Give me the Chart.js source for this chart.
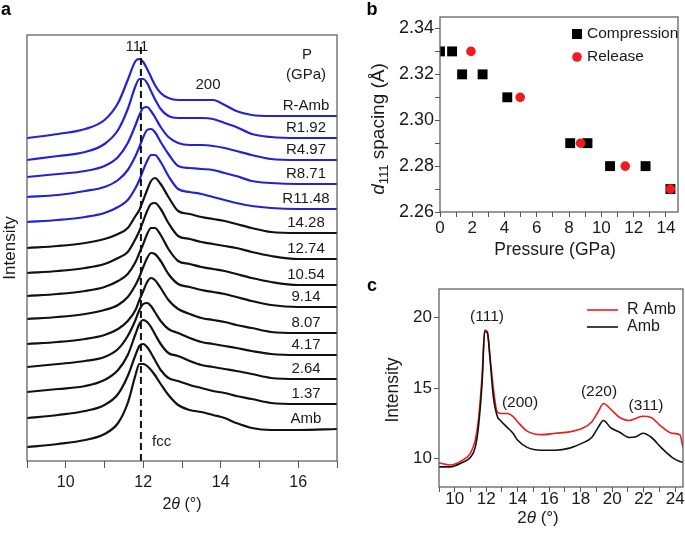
<!DOCTYPE html>
<html lang="en">
<head>
<meta charset="UTF-8">
<title>fcc peak shift under pressure</title>
<script src="https://cdn.jsdelivr.net/npm/chart.js"></script>
<style>
    body {
        margin: 0;
        background: #fff;
        width: 685px;
        height: 537px;
        position: relative;
        overflow: hidden;
    }
    canvas { position: absolute; }
    #panelA { left: 0; top: 0; }
    #panelB { left: 340px; top: 0; }
    #panelC { left: 340px; top: 270px; }
</style>
</head>
<body>
<canvas id="panelA" width="345" height="537"></canvas>
<canvas id="panelB" width="345" height="260"></canvas>
<canvas id="panelC" width="345" height="267"></canvas>
<script>
// ---- panel a: stacked patterns (offset intensity, arbitrary units) ----
const thetaA = [9, 9.8, 10.5, 11.0, 11.35, 11.6, 11.8, 11.9, 12.0, 12.1, 12.2, 12.3, 12.45, 12.65, 12.9, 13.2, 13.5, 13.8, 14.1, 14.4, 14.8, 15.3, 16, 17];
const pressureLabels = ['R-Amb', 'R1.92', 'R4.97', 'R8.71', 'R11.48', '14.28', '12.74', '10.54', '9.14', '8.07', '4.17', '2.64', '1.37', 'Amb'];
const releaseCount = 5;
const intRAmb  = [323, 327, 332, 341, 358, 381, 400, 402, 399, 392, 384, 376, 368, 363, 361, 361, 361, 361, 356, 350, 346, 345, 345, 345];
const intR192  = [301, 305, 309, 317, 331, 352, 375, 382, 382, 378, 370, 362, 352, 345, 343, 343, 343, 342, 338, 334, 327, 324, 323, 323];
const intR497  = [284, 287, 290, 295, 304, 318, 336, 346, 353, 354, 350, 344, 334, 324, 318, 316, 316, 315, 313, 310, 306, 302, 301, 301];
const intR871  = [264, 266, 270, 274, 281, 291, 305, 314, 324, 331, 332, 329, 319, 307, 295, 293, 292, 291, 288, 285, 280, 278, 277, 277];
const intR1148 = [239, 241, 244, 248, 254, 261, 273, 281, 291, 300, 306, 306, 299, 285, 272, 269, 267, 264, 261, 258, 255, 253, 252, 252];
const int1428  = [213, 215, 218, 222, 227, 233, 245, 251, 261, 271, 280, 283, 277, 264, 250, 247, 244, 242, 240, 237, 233, 229, 228, 228];
const int1274  = [188, 190, 193, 197, 203, 209, 222, 230, 240, 250, 257, 258, 252, 238, 225, 222, 219, 217, 215, 213, 209, 205, 202, 202];
const int1054  = [165, 167, 170, 174, 180, 187, 199, 208, 217, 227, 233, 233, 226, 212, 200, 197, 194, 192, 190, 187, 183, 179, 176, 176];
const int914   = [142, 144, 147, 151, 156, 164, 176, 184, 194, 203, 208, 207, 200, 187, 177, 174, 171, 169, 167, 164, 160, 156, 154, 154];
const int807   = [117, 119, 122, 126, 132, 140, 151, 161, 170, 179, 183, 181, 173, 161, 152, 147, 143, 141, 139, 136, 133, 129, 128, 128];
const int417   = [94, 97, 100, 104, 112, 125, 141, 151, 157, 158, 155, 149, 140, 132, 128, 123, 119, 117, 115, 113, 110, 107, 106, 106];
const int264   = [69, 72, 75, 81, 91, 106, 127, 137, 141, 139, 134, 127, 117, 108, 105, 100, 96, 94, 92, 90, 87, 83, 82, 82];
const int137   = [43, 46, 50, 56, 67, 85, 106, 115, 117, 114, 108, 101, 91, 83, 80, 76, 73, 70, 68, 65, 62, 58, 57, 57];
const intAmb   = [14, 17, 21, 27, 38, 58, 86, 97, 97, 95, 91, 86, 77, 66, 56, 51, 49, 46, 43, 38, 33, 31, 31, 32];
const fccLineX = 11.94;

// ---- panel b: d111 spacing vs pressure ----
const compP = [0, 0.75, 1.37, 2.64, 4.17, 8.07, 9.14, 10.54, 12.74, 14.28];
const compD = [2.33, 2.33, 2.32, 2.32, 2.31, 2.29, 2.29, 2.28, 2.28, 2.27];
const relP  = [1.92, 4.97, 8.71, 11.48, 14.28];
const relD  = [2.33, 2.31, 2.29, 2.28, 2.27];

// ---- panel c: full patterns ----
const thetaC = [9, 9.7, 10.5, 11.0, 11.3, 11.5, 11.75, 11.9, 12.07, 12.26, 12.45, 12.7, 12.9, 13.35, 13.7, 14.0, 14.6, 15.5, 16.4, 17.3, 18.1, 18.7, 19.1, 19.45, 19.9, 20.5, 21.1, 21.5, 21.95, 22.5, 23.1, 23.8, 24.3, 24.5];
const cRAmb = [9.7, 9.56, 9.9, 10.4, 11.3, 12.7, 16.1, 19.1, 19.0, 17.0, 15.0, 13.3, 13.2, 13.2, 13.0, 12.6, 11.95, 11.7, 11.8, 11.9, 12.15, 12.6, 13.3, 13.9, 13.5, 12.9, 12.7, 12.85, 13.0, 12.9, 12.3, 11.8, 11.7, 10.8];
const cAmb  = [9.42, 9.42, 9.75, 10.1, 10.8, 12.2, 15.6, 19.0, 18.9, 16.8, 14.4, 13.0, 12.7, 12.2, 11.8, 11.3, 10.8, 10.6, 10.6, 10.75, 11.1, 11.5, 12.2, 12.7, 12.2, 11.85, 11.5, 11.55, 11.8, 11.5, 10.8, 10.1, 9.8, 9.75];

const FONT = 'Arial, "Liberation Sans", Helvetica, sans-serif';
const INK = '#1a1a1a';
const AXIS = '#555';
const BLUE = '#2323d6';
const RED = '#ee1c1c';

const f = (size, style) => (style ? style + ' ' : '') + size + 'px ' + FONT;
const pts = (xs, ys) => xs.map((x, i) => ({ x: x, y: ys[i] }));

// box round the plot area
const framePlugin = {
    id: 'frame',
    afterDatasetsDraw(chart) {
        const { ctx, chartArea: a } = chart;
        ctx.save();
        ctx.strokeStyle = AXIS;
        ctx.lineWidth = 1.2;
        ctx.strokeRect(a.left, a.top, a.right - a.left, a.bottom - a.top);
        ctx.restore();
    }
};

function drawParts(ctx, parts, x, y, align, angle) {
    ctx.save();
    ctx.translate(x, y);
    if (angle) ctx.rotate(angle);
    let total = 0;
    parts.forEach(p => { ctx.font = p.font; total += ctx.measureText(p.text).width; });
    let cx = align === 'left' ? 0 : align === 'right' ? -total : -total / 2;
    ctx.textAlign = 'left';
    ctx.textBaseline = 'middle';
    parts.forEach(p => {
        ctx.font = p.font;
        ctx.fillStyle = p.color || INK;
        ctx.fillText(p.text, cx, p.dy || 0);
        cx += ctx.measureText(p.text).width;
    });
    ctx.restore();
}

// annotations: titles, peak names, legends
const textPlugin = {
    id: 'notes',
    afterDraw(chart, args, opts) {
        const ctx = chart.ctx;
        (opts.items || []).forEach(it => {
            const pos = typeof it.at === 'function' ? it.at(chart) : it.at;
            drawParts(ctx, it.parts, pos[0], pos[1], it.align || 'center', it.angle || 0);
        });
        if (opts.markers) opts.markers(ctx);
    }
};

function tickGrid(len) {
    return { display: true, drawOnChartArea: false, drawTicks: true, tickLength: len, color: AXIS, lineWidth: 1 };
}
function evenLabel(v) {
    const k = Math.round(v);
    return Math.abs(v - k) < 1e-6 && k % 2 === 0 ? String(k) : '';
}

// ================= panel a =================
const seriesA = [intRAmb, intR192, intR497, intR871, intR1148, int1428, int1274, int1054, int914, int807, int417, int264, int137, intAmb];

const dsA = seriesA.map((arr, i) => ({
    label: pressureLabels[i],
    data: pts(thetaA, arr),
    showLine: true,
    borderColor: i < releaseCount ? BLUE : '#111',
    borderWidth: 2.2,
    pointRadius: 0,
    cubicInterpolationMode: 'monotone',
    order: 1
}));
dsA.push({
    label: 'fcc',
    data: [{ x: fccLineX, y: 0 }, { x: fccLineX, y: 414 }],
    showLine: true,
    borderColor: '#111',
    borderWidth: 2,
    borderDash: [7, 4],
    pointRadius: 0,
    order: 0
});

const itemsA = [
    { parts: [{ text: 'a', font: f(18, 'bold'), color: '#000' }], at: [6, 10] },
    { parts: [{ text: '111', font: f(15) }], at: [137, 47] },
    { parts: [{ text: '200', font: f(15) }], at: [208, 85] },
    { parts: [{ text: 'P', font: f(15) }], at: [307, 55] },
    { parts: [{ text: '(GPa)', font: f(15) }], at: [306, 75] },
    { parts: [{ text: 'fcc', font: f(15) }], at: [152, 442], align: 'left' },
    { parts: [{ text: '2', font: f(16) }, { text: 'θ', font: f(16, 'italic') }, { text: ' (°)', font: f(16) }], at: [182, 505] },
    { parts: [{ text: 'Intensity', font: f(17) }], at: [10, 248], angle: -Math.PI / 2 }
];
seriesA.forEach((arr, i) => {
    itemsA.push({
        parts: [{ text: pressureLabels[i], font: f(15) }],
        at: c => [c.scales.x.getPixelForValue(16.2), c.scales.y.getPixelForValue(arr[arr.length - 1] + 10)]
    });
});

new Chart(document.getElementById('panelA'), {
    type: 'scatter',
    data: { datasets: dsA },
    options: {
        responsive: false,
        animation: false,
        layout: { padding: { top: 35, right: 8, left: 0, bottom: 0 } },
        plugins: {
            legend: { display: false },
            tooltip: { enabled: false },
            notes: { items: itemsA }
        },
        scales: {
            x: {
                type: 'linear', min: 9, max: 17,
                ticks: { stepSize: 1, includeBounds: false, callback: evenLabel, font: { size: 16, family: FONT }, color: INK, padding: 5, maxRotation: 0, autoSkip: false },
                grid: tickGrid(7),
                border: { display: false },
                afterFit: s => { s.height = 76; }
            },
            y: {
                min: 0, max: 426,
                ticks: { display: false },
                grid: { display: false },
                border: { display: false },
                afterFit: s => { s.width = 27; }
            }
        }
    },
    plugins: [framePlugin, textPlugin]
});

// ================= panel b =================
new Chart(document.getElementById('panelB'), {
    type: 'scatter',
    data: {
        datasets: [
            {
                label: 'Compression',
                data: pts(compP, compD),
                pointStyle: 'rect',
                pointRadius: 7,
                backgroundColor: '#000',
                borderColor: '#000',
                borderWidth: 0,
                clip: 0,
                order: 1
            },
            {
                label: 'Release',
                data: pts(relP, relD),
                pointStyle: 'circle',
                pointRadius: 4.8,
                backgroundColor: RED,
                borderColor: RED,
                borderWidth: 0,
                clip: 0,
                order: 0
            }
        ]
    },
    options: {
        responsive: false,
        animation: false,
        layout: { padding: { top: 17, right: 2, left: 0, bottom: 0 } },
        plugins: {
            legend: { display: false },
            tooltip: { enabled: false },
            notes: {
                items: [
                    { parts: [{ text: 'b', font: f(18, 'bold'), color: '#000' }], at: [32, 10] },
                    { parts: [{ text: 'Compression', font: f(15.5) }], at: [247, 34], align: 'left' },
                    { parts: [{ text: 'Release', font: f(15.5) }], at: [247, 57], align: 'left' },
                    { parts: [{ text: 'Pressure (GPa)', font: f(17.5) }], at: [215, 250] },
                    {
                        parts: [
                            { text: 'd', font: f(19, 'italic') },
                            { text: '111', font: f(13), dy: 5 },
                            { text: ' spacing (Å)', font: f(19) }
                        ],
                        at: [39, 129], angle: -Math.PI / 2
                    }
                ],
                markers: ctx => {
                    ctx.save();
                    ctx.fillStyle = '#000';
                    ctx.fillRect(232, 29, 10, 10);
                    ctx.fillStyle = RED;
                    ctx.beginPath();
                    ctx.arc(237, 57, 4.8, 0, Math.PI * 2);
                    ctx.fill();
                    ctx.restore();
                }
            }
        },
        scales: {
            x: {
                type: 'linear', min: 0, max: 14.75,
                ticks: { stepSize: 1, includeBounds: false, callback: evenLabel, font: { size: 17, family: FONT }, color: INK, padding: 1, maxRotation: 0, autoSkip: false },
                grid: tickGrid(5),
                border: { display: false },
                afterFit: s => { s.height = 48; }
            },
            y: {
                min: 2.26, max: 2.345,
                ticks: {
                    stepSize: 0.01,
                    includeBounds: false,
                    callback: v => {
                        const k = Math.round(v * 100);
                        return Math.abs(v * 100 - k) < 1e-6 && k % 2 === 0 ? (k / 100).toFixed(2) : '';
                    },
                    font: { size: 18, family: FONT }, color: INK, padding: 1, autoSkip: false
                },
                grid: tickGrid(5),
                border: { display: false },
                afterFit: s => { s.width = 100; }
            }
        }
    },
    plugins: [framePlugin, textPlugin]
});

// ================= panel c =================
new Chart(document.getElementById('panelC'), {
    type: 'scatter',
    data: {
        datasets: [
            {
                label: 'R Amb',
                data: pts(thetaC, cRAmb),
                showLine: true,
                borderColor: RED,
                borderWidth: 1.6,
                pointRadius: 0,
                cubicInterpolationMode: 'monotone',
                order: 1
            },
            {
                label: 'Amb',
                data: pts(thetaC, cAmb),
                showLine: true,
                borderColor: '#111',
                borderWidth: 1.6,
                pointRadius: 0,
                cubicInterpolationMode: 'monotone',
                order: 0
            }
        ]
    },
    options: {
        responsive: false,
        animation: false,
        layout: { padding: { top: 19, right: 2, left: 0, bottom: 0 } },
        plugins: {
            legend: { display: false },
            tooltip: { enabled: false },
            notes: {
                items: [
                    { parts: [{ text: 'c', font: f(18, 'bold'), color: '#000' }], at: [32, 16] },
                    { parts: [{ text: 'R Amb', font: f(16) }], at: [287, 40], align: 'left' },
                    { parts: [{ text: 'Amb', font: f(16) }], at: [287, 57], align: 'left' },
                    { parts: [{ text: '(111)', font: f(15.5) }], at: [147, 47] },
                    { parts: [{ text: '(200)', font: f(15.5) }], at: [180, 133] },
                    { parts: [{ text: '(220)', font: f(15.5) }], at: [259, 122] },
                    { parts: [{ text: '(311)', font: f(15.5) }], at: [306, 136] },
                    { parts: [{ text: '2', font: f(17) }, { text: 'θ', font: f(17, 'italic') }, { text: ' (°)', font: f(17) }], at: [198, 248] },
                    { parts: [{ text: 'Intensity', font: f(17.5) }], at: [53, 120], angle: -Math.PI / 2 }
                ],
                markers: ctx => {
                    ctx.save();
                    ctx.lineWidth = 1.6;
                    ctx.strokeStyle = RED;
                    ctx.beginPath(); ctx.moveTo(247, 40); ctx.lineTo(278, 40); ctx.stroke();
                    ctx.strokeStyle = '#111';
                    ctx.beginPath(); ctx.moveTo(247, 57); ctx.lineTo(278, 57); ctx.stroke();
                    ctx.restore();
                }
            }
        },
        scales: {
            x: {
                type: 'linear', min: 9, max: 24.5,
                ticks: { stepSize: 1, includeBounds: false, callback: evenLabel, font: { size: 17, family: FONT }, color: INK, padding: -3, maxRotation: 0, autoSkip: false },
                grid: tickGrid(5),
                border: { display: false },
                afterFit: s => { s.height = 50; }
            },
            y: {
                min: 8, max: 22,
                ticks: {
                    stepSize: 5,
                    includeBounds: false,
                    callback: v => (v % 5 === 0 ? String(v) : ''),
                    font: { size: 17, family: FONT }, color: INK, padding: 2, autoSkip: false
                },
                grid: tickGrid(5),
                border: { display: false },
                afterFit: s => { s.width = 99; }
            }
        }
    },
    plugins: [framePlugin, textPlugin]
});
</script>
</body>
</html>
